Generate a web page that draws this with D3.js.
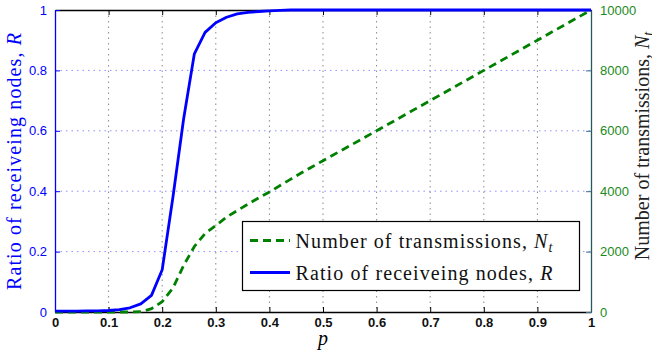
<!DOCTYPE html>
<html>
<head>
<meta charset="utf-8">
<script src="https://cdn.jsdelivr.net/npm/d3@7"></script>
<style>
body { margin: 0; background: #fff; }
</style>
</head>
<body>
<svg width="652" height="350"></svg>
<script>
// values
var pValues = [0, 0.02, 0.04, 0.06, 0.08, 0.10, 0.12, 0.14, 0.16, 0.18, 0.20, 0.22, 0.24, 0.26, 0.28, 0.30,
               0.32, 0.34, 0.36, 0.38, 0.40, 0.42, 0.44, 0.46, 0.48, 0.50, 0.60, 0.70, 0.80, 0.90, 1.00];
var ratioValues = [0.003, 0.003, 0.003, 0.004, 0.004, 0.005, 0.008, 0.014, 0.027, 0.055, 0.14, 0.38, 0.64, 0.855, 0.926, 0.958,
                   0.976, 0.987, 0.992, 0.995, 0.997, 0.999, 1, 1, 1, 1, 1, 1, 1, 1, 1];
var transValues = [0, 0, 0, 0, 0, 0, 0, 0, 10, 110, 340, 790, 1540, 2170, 2600, 2860,
                   3140, 3360, 3570, 3780, 3970, 4190, 4400, 4610, 4810, 5010, 6000, 7000, 8000, 9000, 10000];

var xTicks = [0, 0.1, 0.2, 0.3, 0.4, 0.5, 0.6, 0.7, 0.8, 0.9, 1];
var xTickLabels = ["0", "0.1", "0.2", "0.3", "0.4", "0.5", "0.6", "0.7", "0.8", "0.9", "1"];
var leftTicks = [0, 0.2, 0.4, 0.6, 0.8, 1];
var leftTickLabels = ["0", "0.2", "0.4", "0.6", "0.8", "1"];
var rightTicks = [0, 2000, 4000, 6000, 8000, 10000];
var rightTickLabels = ["0", "2000", "4000", "6000", "8000", "10000"];

var blue = "#0000ff", green = "#008000";
var serif = "'Liberation Serif', 'Times New Roman', serif";
var sans = "'Liberation Sans', Arial, sans-serif";

var svg = d3.select("svg"),
    margin = {top: 10, right: 61, bottom: 38, left: 55},
    width = +svg.attr("width") - margin.left - margin.right,
    height = +svg.attr("height") - margin.top - margin.bottom;

var x = d3.scaleLinear().domain([0, 1]).range([0, width]),
    yL = d3.scaleLinear().domain([0, 1]).range([height, 0]),
    yR = d3.scaleLinear().domain([0, 10000]).range([height, 0]);

var g = svg.append("g")
    .attr("transform", "translate(" + margin.left + "," + margin.top + ")");

// grid
g.append("g").selectAll("line")
    .data(xTicks.slice(1, -1))
    .enter().append("line")
    .attr("x1", function(d) { return x(d); })
    .attr("x2", function(d) { return x(d); })
    .attr("y1", 0).attr("y2", height)
    .style("stroke", "#8a8a8a")
    .style("stroke-width", 1)
    .style("stroke-dasharray", "1.5,4");

g.append("g").selectAll("line")
    .data(leftTicks.slice(1, -1))
    .enter().append("line")
    .attr("x1", 0).attr("x2", width)
    .attr("y1", function(d) { return yL(d); })
    .attr("y2", function(d) { return yL(d); })
    .style("stroke", "#8f8fff")
    .style("stroke-width", 1)
    .style("stroke-dasharray", "1.5,4");

// axes
var xAxis = d3.axisBottom(x).tickValues(xTicks).tickSizeInner(-5).tickSizeOuter(0)
    .tickPadding(6).tickFormat(function(d, i) { return xTickLabels[i]; });
var xAxisTop = d3.axisTop(x).tickValues(xTicks).tickSizeInner(-5).tickSizeOuter(0).tickFormat("");
var leftAxis = d3.axisLeft(yL).tickValues(leftTicks).tickSizeInner(-5).tickSizeOuter(0)
    .tickPadding(8).tickFormat(function(d, i) { return leftTickLabels[i]; });
var rightAxis = d3.axisRight(yR).tickValues(rightTicks).tickSizeInner(-5).tickSizeOuter(0)
    .tickPadding(9).tickFormat(function(d, i) { return rightTickLabels[i]; });

var gx = g.append("g").attr("transform", "translate(0," + height + ")").call(xAxis);
gx.select(".domain").style("stroke", "#000").style("stroke-width", 1.3);
gx.selectAll(".tick line").style("stroke", "#000");
gx.selectAll("text").style("font-family", sans).style("font-size", "13px")
    .style("font-weight", "bold").style("fill", "#111");

var gxt = g.append("g").call(xAxisTop);
gxt.select(".domain").style("stroke", "#000").style("stroke-width", 1.3);
gxt.selectAll(".tick line").style("stroke", "#000");

var gl = g.append("g").call(leftAxis);
gl.select(".domain").style("stroke", blue).style("stroke-width", 1.3);
gl.selectAll(".tick line").style("stroke", blue);
gl.selectAll("text").style("font-family", sans).style("font-size", "13px").style("fill", blue);

var gr = g.append("g").attr("transform", "translate(" + width + ",0)").call(rightAxis);
gr.select(".domain").style("stroke", "#245b5b").style("stroke-width", 1.3);
gr.selectAll(".tick line").style("stroke", "#3f6d8a");
gr.selectAll("text").style("font-family", sans).style("font-size", "13px").style("fill", "#1b8a1b");

// curves
var lineR = d3.line()
    .x(function(d, i) { return x(pValues[i]); })
    .y(function(d) { return yL(d); });
var lineN = d3.line()
    .x(function(d, i) { return x(pValues[i]); })
    .y(function(d) { return yR(d); });

g.append("path")
    .datum(transValues)
    .attr("d", lineN)
    .style("fill", "none")
    .style("stroke", green)
    .style("stroke-width", 2.8)
    .style("stroke-dasharray", "8,5");

g.append("path")
    .datum(ratioValues)
    .attr("d", lineR)
    .style("fill", "none")
    .style("stroke", blue)
    .style("stroke-width", 2.8)
    .style("stroke-linejoin", "round");

// axis titles
svg.append("text")
    .attr("transform", "translate(21," + (margin.top + height / 2) + ") rotate(-90)")
    .attr("text-anchor", "middle")
    .style("font-family", serif).style("font-size", "20px").style("letter-spacing", "1.1px").style("fill", blue)
    .text("Ratio of receiveing nodes, ")
    .append("tspan").style("font-style", "italic").text("R");

// right title runs off the edge like in the original
var rt = svg.append("text")
    .attr("transform", "translate(649,146) rotate(-90)")
    .attr("text-anchor", "middle")
    .style("font-family", serif).style("font-size", "20px").style("fill", "#222");
rt.append("tspan").text("Number of transmissions, ");
rt.append("tspan").style("font-style", "italic").text("N");
rt.append("tspan").style("font-style", "italic").style("font-size", "14px").attr("dy", 4).text("t");

svg.append("text")
    .attr("x", margin.left + width / 2).attr("y", 345)
    .attr("text-anchor", "middle")
    .style("font-family", serif).style("font-size", "20px").style("font-style", "italic")
    .text("p");

// legend
var legend = g.append("g").attr("transform", "translate(" + (242.5 - margin.left) + "," + (221.5 - margin.top) + ")");
legend.append("rect")
    .attr("width", 337).attr("height", 69)
    .style("fill", "#fff").style("stroke", "#000").style("stroke-width", 1.2);

var items = [
  {label: "Number of transmissions, ", sym: "N", sub: "t", color: green, dash: "8,5"},
  {label: "Ratio of receiveing nodes, ", sym: "R", sub: "", color: blue, dash: null}
];
var item = legend.selectAll(".item")
    .data(items)
    .enter().append("g")
    .attr("class", "item")
    .attr("transform", function(d, i) { return "translate(0," + (19 + i * 32) + ")"; });
item.append("line")
    .attr("x1", 7.5).attr("x2", 47.5)
    .style("stroke", function(d) { return d.color; })
    .style("stroke-width", 2.8)
    .style("stroke-dasharray", function(d) { return d.dash; });
var lt = item.append("text")
    .attr("x", 53).attr("y", 7)
    .style("font-family", serif).style("font-size", "20px").style("letter-spacing", "1.1px").style("fill", "#111");
lt.append("tspan").text(function(d) { return d.label; });
lt.append("tspan").style("font-style", "italic").text(function(d) { return d.sym; });
lt.append("tspan").style("font-style", "italic").style("font-size", "14px").attr("dy", 4)
    .text(function(d) { return d.sub; });
</script>
</body>
</html>
